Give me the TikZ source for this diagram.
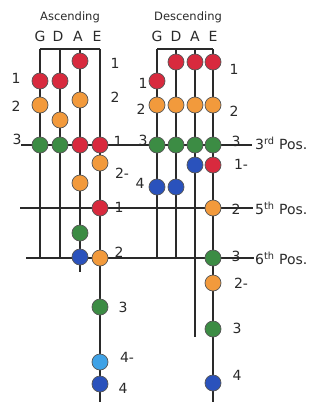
\documentclass[tikz,border=0pt]{standalone}
\usepackage{fontspec}
\setmainfont{DejaVu Sans}
\definecolor{cred}{HTML}{D82A3E}
\definecolor{corange}{HTML}{F29A3C}
\definecolor{cgreen}{HTML}{3C8C44}
\definecolor{cblue}{HTML}{2A52BC}
\definecolor{clblue}{HTML}{3FA2E6}
\definecolor{ink}{HTML}{2A2A2A}
\tikzset{
  dot/.style={circle, draw=ink!80, line width=0.7pt, minimum size=16pt, inner sep=0pt},
  rd/.style={dot, fill=cred},
  og/.style={dot, fill=corange},
  gr/.style={dot, fill=cgreen},
  bl/.style={dot, fill=cblue},
  lb/.style={dot, fill=clblue},
  strg/.style={draw=ink, line width=1.7pt},
  posline/.style={draw=ink, line width=1.7pt},
  lab/.style={font=\fontsize{14}{14}\selectfont, text=ink, inner sep=0pt},
  ttl/.style={font=\fontsize{11.5}{12}\selectfont, text=ink, inner sep=0pt},
  sl/.style={font=\fontsize{14}{14}\selectfont, text=ink, inner sep=0pt},
  poslab/.style={font=\fontsize{14}{14}\selectfont, text=ink, inner sep=0pt, anchor=west},
}
\begin{document}
\begin{tikzpicture}[x=1pt,y={(0pt,-1pt)}]
\useasboundingbox[fill=white] (0,0) rectangle (328,402);
% titles
\node[ttl] (tasc) at (70,17) {Ascending};
\node[ttl] (tdesc) at (188,17) {Descending};
\node[sl] (aGl) at (40,36) {G};
\node[sl] (aDl) at (58,36) {D};
\node[sl] (aAl) at (78,36) {A};
\node[sl] (aEl) at (97,36) {E};
\node[sl] (dGl) at (157,36) {G};
\node[sl] (dDl) at (176,36) {D};
\node[sl] (dAl) at (195,36) {A};
\node[sl] (dEl) at (213,36) {E};
% string coordinates
\coordinate (aGt) at (40,49); \coordinate (aGb) at (40,258);
\coordinate (aDt) at (60,49); \coordinate (aDb) at (60,258);
\coordinate (aAt) at (80,49); \coordinate (aAb) at (80,272);
\coordinate (aEt) at (100,49); \coordinate (aEb) at (100,402);
\coordinate (dGt) at (157,49); \coordinate (dGb) at (157,258);
\coordinate (dDt) at (176,49); \coordinate (dDb) at (176,258);
\coordinate (dAt) at (195,49); \coordinate (dAb) at (195,337);
\coordinate (dEt) at (213,49); \coordinate (dEb) at (213,402);
% position lines
\coordinate (p3a) at (21,145); \coordinate (p3b) at (252,145);
\coordinate (p5a) at (20,208); \coordinate (p5b) at (253,208);
\coordinate (p6a) at (26,258); \coordinate (p6b) at (254,258);
\draw[posline] (p3a) -- (p3b);
\draw[posline] (p5a) -- (p5b);
\draw[posline] (p6a) -- (p6b);
% strings
\draw[strg] (aGt) -- (aEt);
\draw[strg] (aGt) -- (aGb);
\draw[strg] (aDt) -- (aDb);
\draw[strg] (aAt) -- (aAb);
\draw[strg] (aEt) -- (aEb);
\draw[strg] (dGt) -- (dEt);
\draw[strg] (dGt) -- (dGb);
\draw[strg] (dDt) -- (dDb);
\draw[strg] (dAt) -- (dAb);
\draw[strg] (dEt) -- (dEb);
% ascending notes
\node[rd] (a1) at (80,61) {};
\node[rd] (a2) at (40,81) {};
\node[rd] (a3) at (60,81) {};
\node[og] (a4) at (40,105) {};
\node[og] (a5) at (80,100) {};
\node[og] (a6) at (60,120) {};
\node[gr] (a7) at (40,145) {};
\node[gr] (a8) at (60,145) {};
\node[rd] (a9) at (80,145) {};
\node[rd] (a10) at (100,145) {};
\node[og] (a11) at (100,163) {};
\node[og] (a12) at (80,183) {};
\node[rd] (a13) at (100,208) {};
\node[gr] (a14) at (80,233) {};
\node[bl] (a15) at (80,257) {};
\node[og] (a16) at (100,258) {};
\node[gr] (a17) at (100,307) {};
\node[lb] (a18) at (100,362) {};
\node[bl] (a19) at (100,384) {};
% ascending labels
\node[lab] (la1) at (115,63) {1};
\node[lab] (la2) at (16,78) {1};
\node[lab] (la3) at (16,106) {2};
\node[lab] (la4) at (115,97) {2};
\node[lab] (la5) at (17,139) {3};
\node[lab] (la6) at (118,141) {1};
\node[lab] (la7) at (122,173) {2-};
\node[lab] (la8) at (119,207) {1};
\node[lab] (la9) at (119,252) {2};
\node[lab] (la10) at (123,307) {3};
\node[lab] (la11) at (127,357) {4-};
\node[lab] (la12) at (123,388) {4};
% descending notes
\node[rd] (d1) at (176,62) {};
\node[rd] (d2) at (195,62) {};
\node[rd] (d3) at (213,62) {};
\node[rd] (d4) at (157,81) {};
\node[og] (d5) at (157,105) {};
\node[og] (d6) at (176,105) {};
\node[og] (d7) at (195,105) {};
\node[og] (d8) at (213,105) {};
\node[gr] (d9) at (157,145) {};
\node[gr] (d10) at (176,145) {};
\node[gr] (d11) at (195,145) {};
\node[gr] (d12) at (213,145) {};
\node[bl] (d13) at (195,165) {};
\node[rd] (d14) at (213,165) {};
\node[bl] (d15) at (157,187) {};
\node[bl] (d16) at (176,187) {};
\node[og] (d17) at (213,208) {};
\node[gr] (d18) at (213,258) {};
\node[og] (d19) at (213,283) {};
\node[gr] (d20) at (213,329) {};
\node[bl] (d21) at (213,383) {};
% descending labels
\node[lab] (ld1) at (234,69) {1};
\node[lab] (ld2) at (143,83) {1};
\node[lab] (ld3) at (141,109) {2};
\node[lab] (ld4) at (234,111) {2};
\node[lab] (ld5) at (143,140) {3};
\node[lab] (ld6) at (236,141) {3};
\node[lab] (ld7) at (241,164) {1-};
\node[lab] (ld8) at (140,183) {4};
\node[lab] (ld9) at (236,209) {2};
\node[lab] (ld10) at (236,256) {3};
\node[lab] (ld11) at (241,283) {2-};
\node[lab] (ld12) at (237,328) {3};
\node[lab] (ld13) at (237,375) {4};
% position names
\node[poslab] (n3) at (255,143) {3\textsuperscript{rd} Pos.};
\node[poslab] (n5) at (255,208) {5\textsuperscript{th} Pos.};
\node[poslab] (n6) at (255,258) {6\textsuperscript{th} Pos.};
\end{tikzpicture}
\end{document}
